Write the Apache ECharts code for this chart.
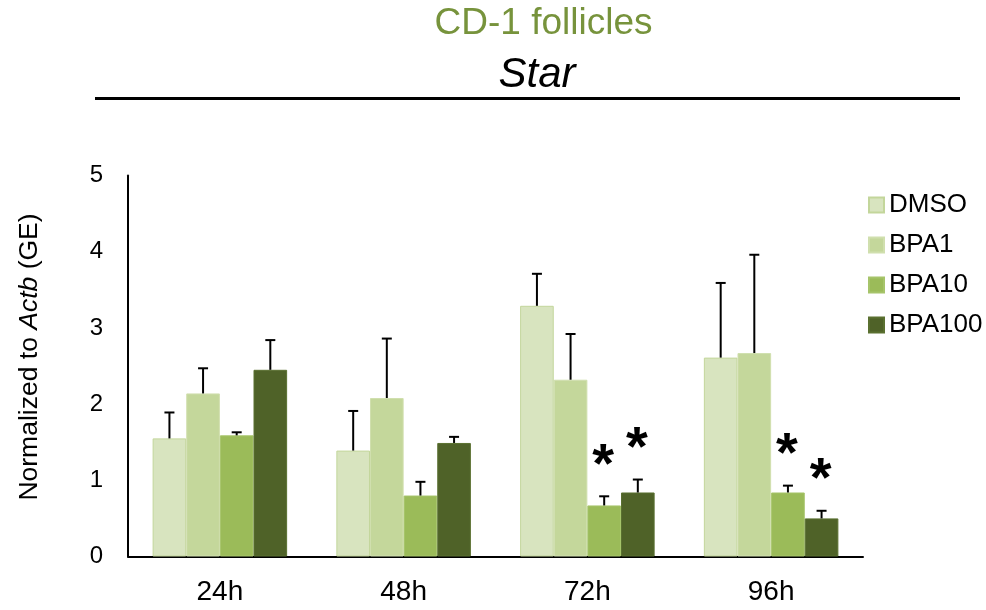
<!DOCTYPE html>
<html>
<head>
<meta charset="utf-8">
<script src="https://cdn.jsdelivr.net/npm/echarts@6/dist/echarts.min.js"></script>
<style>
  html, body { margin: 0; padding: 0; background: #fff; }
  #chart { width: 986px; height: 610px; }
</style>
</head>
<body>
<div id="chart"></div>
<script>
// Time points
const categories = ['24h', '48h', '72h', '96h'];
const groupNames = ['DMSO', 'BPA1', 'BPA10', 'BPA100'];

// Mean expression (normalized to Actb) and upper error per treatment
const dmsoMean   = [1.55, 1.39, 3.29, 2.61];
const dmsoErr    = [0.34, 0.52, 0.42, 0.98];
const bpa1Mean   = [2.14, 2.08, 2.32, 2.67];
const bpa1Err    = [0.33, 0.78, 0.60, 1.29];
const bpa10Mean  = [1.59, 0.80, 0.67, 0.84];
const bpa10Err   = [0.04, 0.18, 0.12, 0.09];
const bpa100Mean = [2.45, 1.49, 0.84, 0.50];
const bpa100Err  = [0.39, 0.08, 0.17, 0.10];

// Time points marked significant (*) for each treatment
const bpa10Sig  = ['72h', '96h'];
const bpa100Sig = ['72h', '96h'];

const yTicks = [0, 1, 2, 3, 4, 5];

const colors = ['#d8e4bf', '#c4d79b', '#9bbb59', '#4f6228'];
const borders = ['#c3d69b', '#d0dfae', '#a6c46a', '#5a7030'];
const means = [dmsoMean, bpa1Mean, bpa10Mean, bpa100Mean];
const errs = [dmsoErr, bpa1Err, bpa10Err, bpa100Err];
const sigs = [[], [], bpa10Sig, bpa100Sig];

const FONT = 'Liberation Sans, Arial, sans-serif';
const BAR_FRAC = 0.183; // bar width as a fraction of the category band

const chart = echarts.init(document.getElementById('chart'), null, { renderer: 'canvas' });

const barSeries = groupNames.map((name, i) => ({
  name: name,
  type: 'bar',
  data: means[i],
  barWidth: (BAR_FRAC * 100) + '%',
  barGap: '0%',
  itemStyle: { color: colors[i], borderColor: borders[i], borderWidth: 1 },
  z: 2
}));

// Upper error bars drawn over each bar
const errorSeries = groupNames.map((name, i) => ({
  type: 'custom',
  name: name + '-err',
  z: 5,
  silent: true,
  data: categories.map((c, k) => [k, means[i][k], errs[i][k]]),
  renderItem: function (params, api) {
    const k = api.value(0);
    const m = api.value(1);
    const e = api.value(2);
    const band = api.size([1, 0])[0];
    const bw = band * BAR_FRAC;
    const dx = (i - 1.5) * bw;
    const base = api.coord([k, m]);
    const top = api.coord([k, m + e]);
    const x = base[0] + dx;
    const cap = 5;
    const style = { stroke: '#000', lineWidth: 2 };
    return {
      type: 'group',
      children: [
        { type: 'line', shape: { x1: x, y1: base[1], x2: x, y2: top[1] }, style: style },
        { type: 'line', shape: { x1: x - cap, y1: top[1], x2: x + cap, y2: top[1] }, style: style }
      ]
    };
  }
}));

// Significance asterisks placed above the error bars
const starData = [];
sigs.forEach((list, i) => {
  list.forEach(c => {
    const k = categories.indexOf(c);
    starData.push([k, means[i][k] + errs[i][k], i]);
  });
});
const starSeries = {
  type: 'custom',
  name: 'sig',
  z: 6,
  silent: true,
  data: starData,
  renderItem: function (params, api) {
    const k = api.value(0);
    const v = api.value(1);
    const i = api.value(2);
    const band = api.size([1, 0])[0];
    const bw = band * BAR_FRAC;
    const p = api.coord([k, v]);
    return {
      type: 'text',
      style: {
        text: '*',
        x: p[0] + (i - 1.5) * bw - 1,
        y: p[1] - 30,
        align: 'center',
        verticalAlign: 'middle',
        font: 'bold 56px ' + FONT,
        fill: '#000'
      }
    };
  }
};

const option = {
  animation: false,
  backgroundColor: '#fff',
  grid: { left: 128, right: 123, top: 175.5, bottom: 53.5, containLabel: false },
  legend: {
    orient: 'vertical',
    left: 863,
    top: 187,
    itemWidth: 15,
    itemHeight: 15,
    itemGap: 14,
    icon: 'rect',
    data: groupNames,
    textStyle: { fontFamily: FONT, fontSize: 26, color: '#000', padding: [0, 0, 0, 0] }
  },
  xAxis: {
    type: 'category',
    data: categories,
    axisLine: { lineStyle: { color: '#000', width: 2 } },
    axisTick: { show: false },
    axisLabel: { fontFamily: FONT, fontSize: 28, color: '#000', margin: 22 }
  },
  yAxis: {
    type: 'value',
    min: yTicks[0],
    max: yTicks[yTicks.length - 1],
    interval: 1,
    axisLine: { show: true, lineStyle: { color: '#000', width: 2 } },
    axisTick: { show: false },
    splitLine: { show: false },
    axisLabel: { fontFamily: FONT, fontSize: 24, color: '#000', margin: 25 }
  },
  graphic: [
    {
      type: 'text',
      style: { text: 'CD-1 follicles', x: 543.5, y: 24, align: 'center', verticalAlign: 'middle', font: '37px ' + FONT, fill: '#77933c' }
    },
    {
      type: 'text',
      style: { text: 'Star', x: 537, y: 75, align: 'center', verticalAlign: 'middle', font: 'italic 42px ' + FONT, fill: '#000' }
    },
    {
      type: 'line',
      shape: { x1: 95, y1: 98.5, x2: 960, y2: 98.5 },
      style: { stroke: '#000', lineWidth: 3 }
    },
    {
      // y-axis title, gene name in italics
      type: 'text',
      x: 30,
      y: 357,
      rotation: Math.PI / 2,
      style: {
        text: 'Normalized to {i|Actb} (GE)',
        align: 'center',
        verticalAlign: 'middle',
        fontFamily: FONT,
        fontSize: 26.5,
        fill: '#000',
        rich: { i: { fontFamily: FONT, fontSize: 26.5, fontStyle: 'italic', fill: '#000' } }
      }
    }
  ],
  series: barSeries.concat(errorSeries, [starSeries])
};

chart.setOption(option);
</script>
</body>
</html>
